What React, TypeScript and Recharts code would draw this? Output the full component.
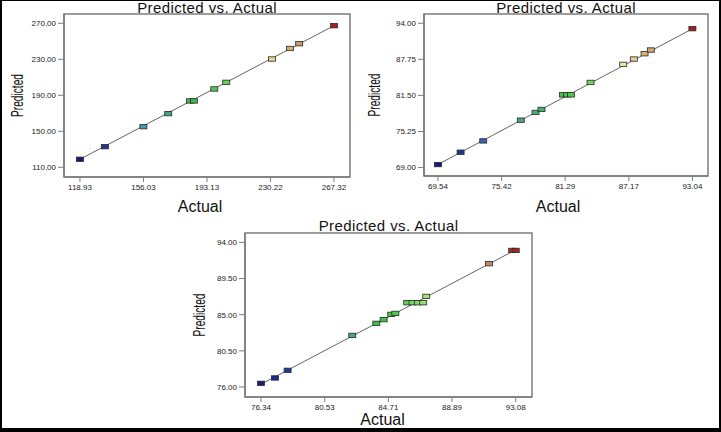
import {
  Label,
  ReferenceArea,
  ReferenceLine,
  Scatter,
  ScatterChart,
  XAxis,
  YAxis,
} from "recharts";

// chart 1
const actual1 = [118.93, 133.5, 156.0, 170.5, 183.2, 185.5, 197.4, 204.4, 231.1, 241.6, 247.0, 267.32];
const predicted1 = [118.9, 132.9, 155.1, 169.6, 183.7, 183.7, 197.0, 204.4, 230.3, 242.0, 247.3, 267.3];
const xTicks1 = [118.93, 156.03, 193.13, 230.22, 267.32];
const yTicks1 = [110, 150, 190, 230, 270];
const xRange1 = [109.6, 276.7];
const yRange1 = [99.2, 280.3];

// chart 2
const actual2 = [69.54, 71.63, 73.72, 77.19, 78.55, 79.1, 81.08, 81.45, 81.82, 83.63, 86.65, 87.63, 88.62, 89.2, 93.04];
const predicted2 = [69.52, 71.66, 73.62, 77.21, 78.55, 79.07, 81.6, 81.6, 81.6, 83.75, 86.88, 87.8, 88.72, 89.36, 93.06];
const xTicks2 = [69.54, 75.42, 81.29, 87.17, 93.04];
const yTicks2 = [69, 75.25, 81.5, 87.75, 94];
const xRange2 = [68.25, 94.48];
const yRange2 = [67.54, 95.6];

// chart 3
const actual3 = [76.34, 77.26, 78.09, 82.34, 83.92, 84.4, 84.9, 85.17, 85.95, 86.3, 86.65, 87.0, 87.2, 91.32, 92.85, 93.08];
const predicted3 = [76.45, 77.12, 78.07, 82.42, 83.92, 84.38, 85.04, 85.16, 86.49, 86.49, 86.49, 86.49, 87.28, 91.35, 93.0, 93.0];
const xTicks3 = [76.34, 80.53, 84.71, 88.89, 93.08];
const yTicks3 = [76, 80.5, 85, 89.5, 94];
const xRange3 = [75.29, 94.15];
const yRange3 = [74.75, 95.17];

const TITLE = "Predicted vs. Actual";
const X_NAME = "Actual";
const Y_NAME = "Predicted";

const FONT = "'Liberation Sans', Arial, sans-serif";
const FRAME = "#7d7d7d";

// blue -> green -> yellow -> red, the way Design-Expert colours by value
const STOPS: [number, number[]][] = [
  [0, [26, 26, 120]],
  [0.12, [40, 60, 160]],
  [0.25, [70, 150, 185]],
  [0.36, [70, 165, 130]],
  [0.46, [60, 190, 70]],
  [0.58, [90, 215, 80]],
  [0.72, [235, 235, 165]],
  [0.82, [215, 175, 115]],
  [0.9, [200, 130, 95]],
  [1, [170, 30, 30]],
];

function colorAt(t: number) {
  for (let i = 1; i < STOPS.length; i++) {
    const [t1, c1] = STOPS[i];
    const [t0, c0] = STOPS[i - 1];
    if (t <= t1) {
      const k = (t - t0) / (t1 - t0);
      const c = c0.map((v, j) => Math.round(v + (c1[j] - v) * k));
      return `rgb(${c[0]},${c[1]},${c[2]})`;
    }
  }
  const c = STOPS[STOPS.length - 1][1];
  return `rgb(${c[0]},${c[1]},${c[2]})`;
}

type Pt = { x: number; y: number; color: string };

function buildPoints(xs: number[], ys: number[]): Pt[] {
  const lo = Math.min(...xs);
  const hi = Math.max(...xs);
  return xs.map((x, i) => ({ x, y: ys[i], color: colorAt((x - lo) / (hi - lo)) }));
}

function Marker(props: any) {
  const { cx, cy, payload } = props;
  if (cx == null || cy == null) return null;
  return (
    <rect
      x={cx - 3.5}
      y={cy - 2.2}
      width={7}
      height={4.4}
      fill={payload.color}
      stroke="#2a2a2a"
      strokeWidth={0.8}
    />
  );
}

type PanelProps = {
  left: number;
  top: number;
  width: number;
  height: number;
  margin: { top: number; right: number; bottom: number; left: number };
  yAxisWidth: number;
  actual: number[];
  predicted: number[];
  xTicks: number[];
  yTicks: number[];
  xRange: number[];
  yRange: number[];
  titleY: number;
  xNameDx: number;
  xNameDy: number;
  yNameX: number;
};

function Panel(p: PanelProps) {
  const data = buildPoints(p.actual, p.predicted);
  const lo = Math.min(...p.actual);
  const hi = Math.max(...p.actual);
  const plotW = p.width - p.margin.left - p.margin.right - p.yAxisWidth;
  const plotX = p.margin.left + p.yAxisWidth;
  const tick = { fill: "#222", fontSize: 8, fontFamily: FONT };

  return (
    <div style={{ position: "absolute", left: p.left, top: p.top }}>
      <ScatterChart width={p.width} height={p.height} margin={p.margin}>
        <XAxis
          type="number"
          dataKey="x"
          domain={p.xRange}
          ticks={p.xTicks}
          tickFormatter={(v: number) => v.toFixed(2)}
          tick={tick}
          tickSize={5}
          tickLine={{ stroke: FRAME }}
          axisLine={{ stroke: FRAME, strokeWidth: 1.5 }}
          allowDataOverflow
          interval={0}
          height={30}
        >
          <Label
            content={(lp: any) => {
              const vb = lp.viewBox;
              return (
                <g>
                  <text
                    x={vb.x + vb.width / 2 + p.xNameDx}
                    y={vb.y + p.xNameDy}
                    textAnchor="middle"
                    fontFamily={FONT}
                    fontSize={16}
                    fill="#111"
                  >
                    {X_NAME}
                  </text>
                  <text
                    x={plotX + plotW / 2}
                    y={p.titleY}
                    textAnchor="middle"
                    fontFamily={FONT}
                    fontSize={15}
                    letterSpacing={0.4}
                    fill="#111"
                  >
                    {TITLE}
                  </text>
                </g>
              );
            }}
          />
        </XAxis>
        <YAxis
          type="number"
          dataKey="y"
          domain={p.yRange}
          ticks={p.yTicks}
          tickFormatter={(v: number) => v.toFixed(2)}
          tick={tick}
          tickSize={6}
          tickLine={{ stroke: FRAME }}
          axisLine={{ stroke: FRAME, strokeWidth: 1.5 }}
          allowDataOverflow
          interval={0}
          width={p.yAxisWidth}
        >
          <Label
            content={(lp: any) => {
              const vb = lp.viewBox;
              const cy = vb.y + vb.height / 2;
              return (
                <text
                  x={p.yNameX}
                  y={cy}
                  transform={`rotate(-90 ${p.yNameX} ${cy})`}
                  textAnchor="middle"
                  dominantBaseline="central"
                  fontFamily="'Liberation Sans Narrow', 'Liberation Sans', Arial, sans-serif"
                  fontSize={17}
                  textLength={43}
                  lengthAdjust="spacingAndGlyphs"
                  fill="#111"
                >
                  {Y_NAME}
                </text>
              );
            }}
          />
        </YAxis>
        <ReferenceArea
          x1={p.xRange[0]}
          x2={p.xRange[1]}
          y1={p.yRange[0]}
          y2={p.yRange[1]}
          fill="none"
          fillOpacity={0}
          stroke={FRAME}
          strokeWidth={1.5}
        />
        <ReferenceLine
          segment={[
            { x: lo, y: lo },
            { x: hi, y: hi },
          ]}
          stroke="#666"
          strokeWidth={1}
        />
        <Scatter data={data} shape={Marker} isAnimationActive={false} />
      </ScatterChart>
    </div>
  );
}

export default function App() {
  return (
    <div
      style={{
        position: "fixed",
        left: 0,
        top: 0,
        width: 721,
        height: 432,
        background: "#fff",
        overflow: "hidden",
      }}
    >
      <Panel
        left={0}
        top={0}
        width={360}
        height={215}
        margin={{ top: 14, right: 10, bottom: 8, left: 0 }}
        yAxisWidth={64}
        actual={actual1}
        predicted={predicted1}
        xTicks={xTicks1}
        yTicks={yTicks1}
        xRange={xRange1}
        yRange={yRange1}
        titleY={13}
        xNameDx={-7}
        xNameDy={35}
        yNameX={17}
      />
      <Panel
        left={360}
        top={0}
        width={361}
        height={215}
        margin={{ top: 14, right: 13, bottom: 9, left: 0 }}
        yAxisWidth={64}
        actual={actual2}
        predicted={predicted2}
        xTicks={xTicks2}
        yTicks={yTicks2}
        xRange={xRange2}
        yRange={yRange2}
        titleY={13}
        xNameDx={-8}
        xNameDy={36}
        yNameX={14}
      />
      <Panel
        left={190}
        top={210}
        width={350}
        height={222}
        margin={{ top: 23, right: 8, bottom: 5, left: 0 }}
        yAxisWidth={55}
        actual={actual3}
        predicted={predicted3}
        xTicks={xTicks3}
        yTicks={yTicks3}
        xRange={xRange3}
        yRange={yRange3}
        titleY={21}
        xNameDx={-6}
        xNameDy={28}
        yNameX={9}
      />
      <div
        style={{
          position: "absolute",
          inset: 0,
          border: "2px solid #000",
          borderTopWidth: 1,
          borderBottomWidth: 4,
          boxSizing: "border-box",
          pointerEvents: "none",
        }}
      />
    </div>
  );
}
